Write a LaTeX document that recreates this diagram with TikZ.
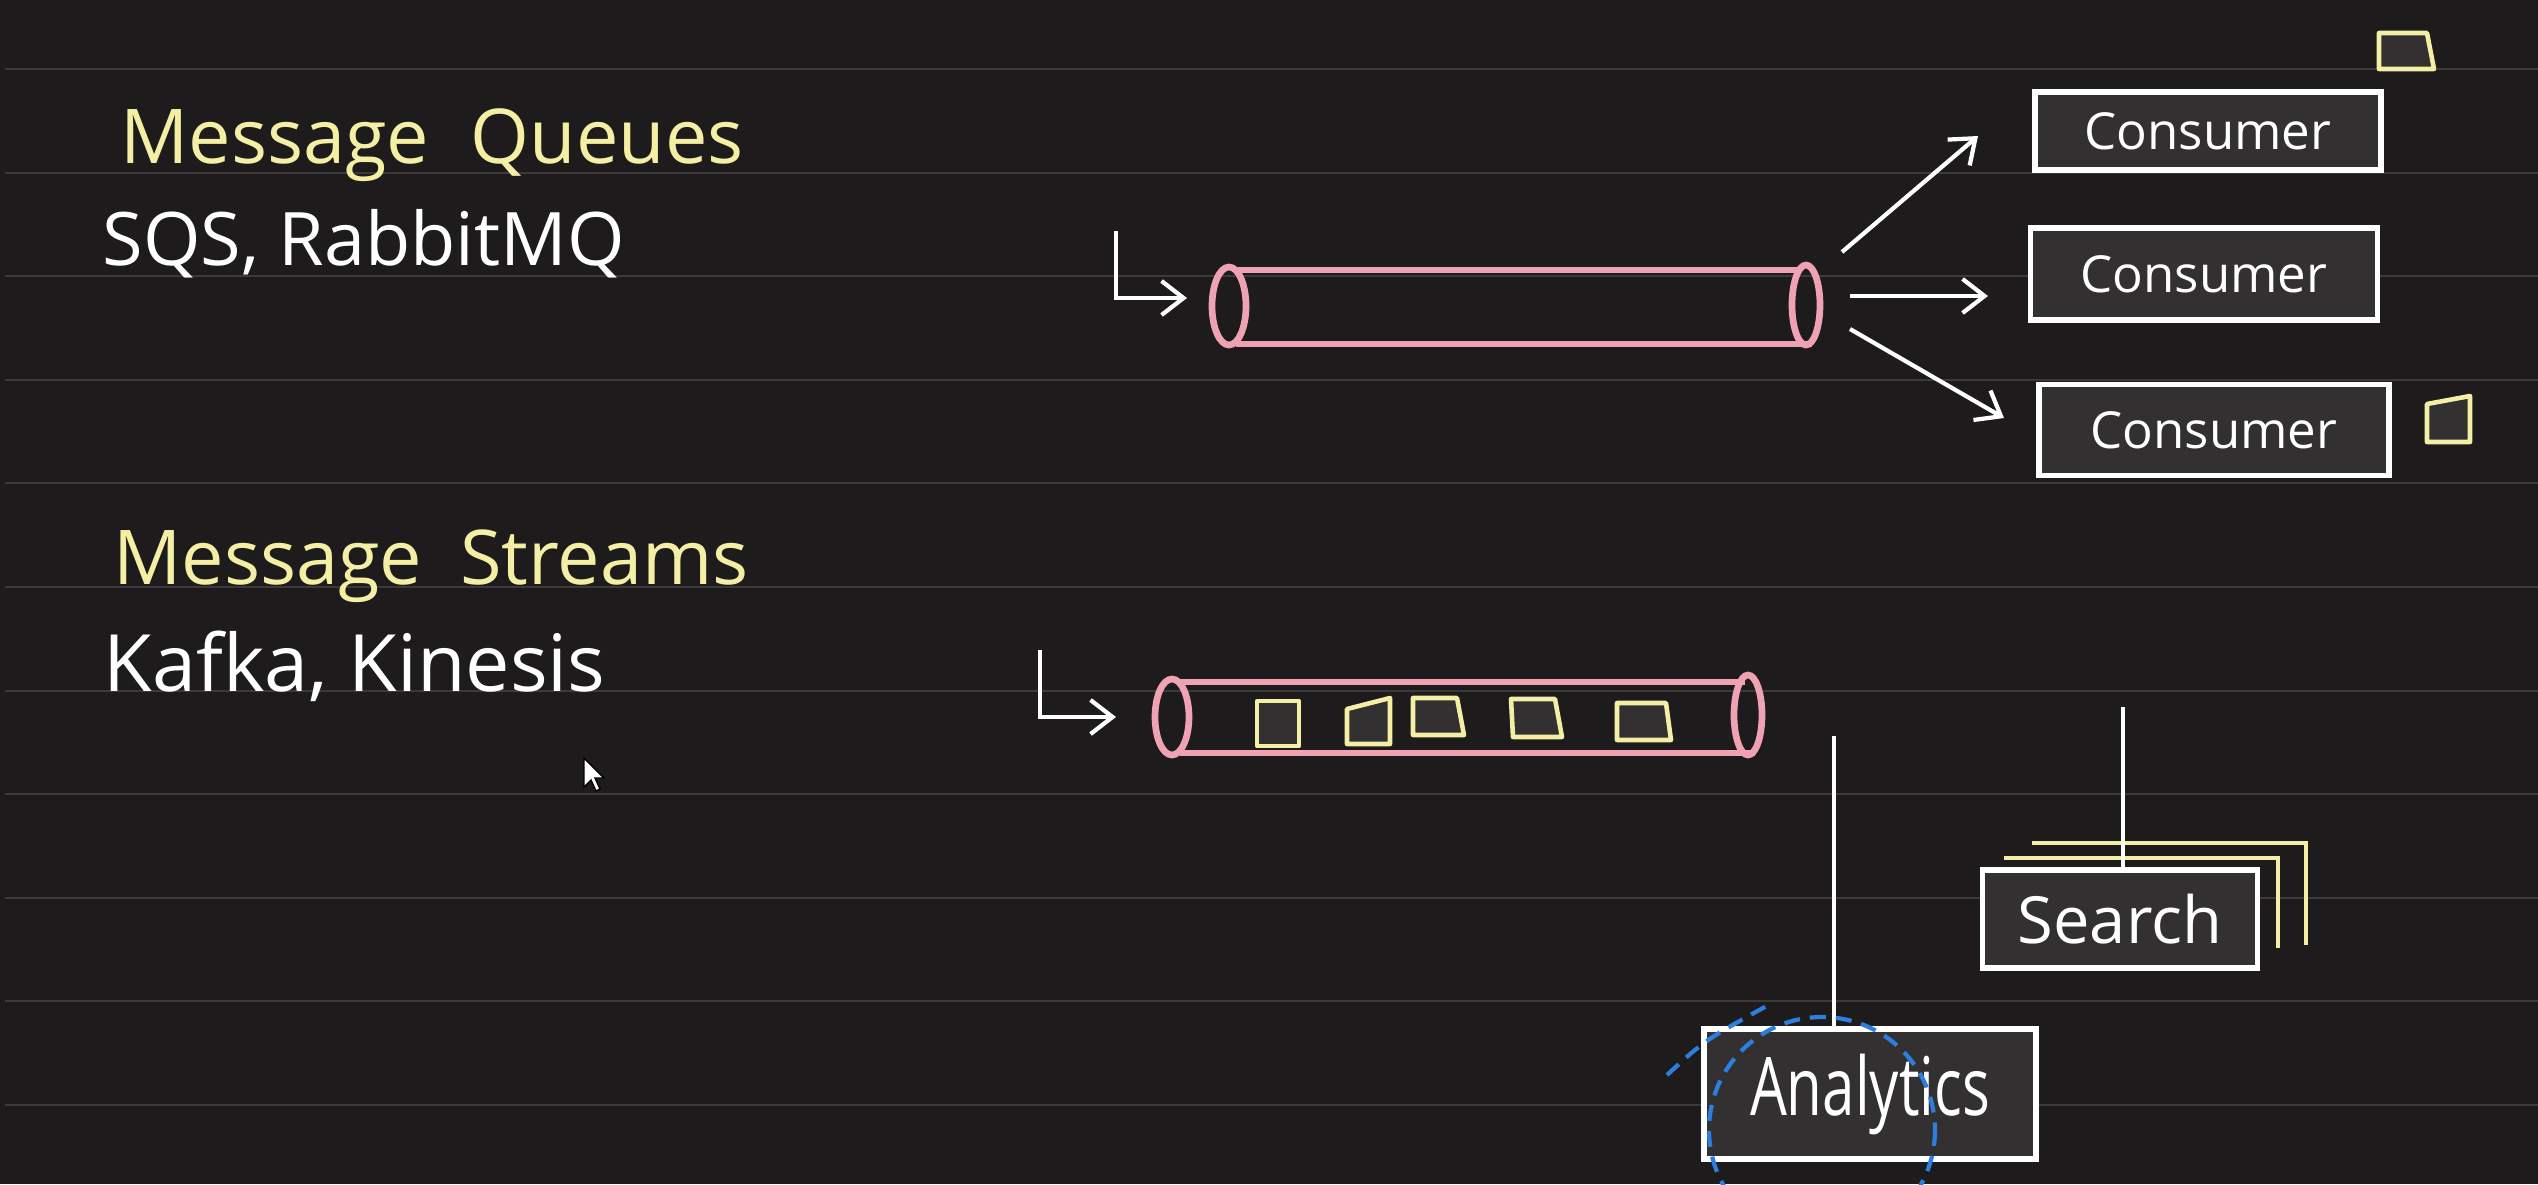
\documentclass[tikz,border=0pt]{standalone}
\usepackage{fontspec}
\setmainfont{Open Sans}
\usepackage{xcolor}
\usepackage{tikz}
\usetikzlibrary{arrows.meta}

\definecolor{tlo}{HTML}{1E1B1C}
\definecolor{linia}{HTML}{3B393A}
\definecolor{zolty}{HTML}{F4EFA4}
\definecolor{rozowy}{HTML}{EFA3B2}
\definecolor{niebieski}{HTML}{2C7FDE}
\definecolor{pudlo}{HTML}{333031}

\tikzset{
  box/.style={draw=white, line width=1.5pt, fill=pudlo, text=white, inner sep=0pt},
  rura/.style={draw=rozowy, line width=1.9pt},
  msg/.style={draw=zolty, line width=1.3pt, fill=pudlo, line join=round},
  strz/.style={white, line width=1.2pt, -{Straight Barb[length=2.2mm,width=3.4mm]}},
  pion/.style={white, line width=1pt},
  lasso/.style={niebieski, line width=1.2pt, dash pattern=on 0.16cm off 0.1cm},
  duzy/.style={anchor=base west, inner sep=0pt, font=\fontsize{21.5}{26}\selectfont}
}

\begin{document}
\begin{tikzpicture}[x=0.01cm, y=-0.01cm]
  % tlo i linie zeszytu
  \fill[tlo] (0,0) rectangle (2538,1184);
  \clip (0,0) rectangle (2538,1184);
  \foreach \k in {0,...,10}
    \draw[linia, line width=0.6pt] (5,{69+103.6*\k}) -- (2538,{69+103.6*\k});

  % napisy
  \node[duzy, text=zolty] (mq) at (120,163) {Message\hspace{0.55em}Queues};
  \node[duzy, text=white, font=\fontsize{21}{24}\selectfont] (sqs) at (102,265) {SQS, RabbitMQ};
  \node[duzy, text=zolty] (ms) at (113,584) {Message\hspace{0.5em}Streams};
  \node[duzy, text=white, font=\fontsize{22.5}{26}\selectfont] (kk) at (103,691) {Kafka, Kinesis};

  % kursor
  \filldraw[fill=white, draw=black, line width=0.4pt]
    (584,758) -- (584,787) -- (591,780) -- (596,791) -- (600,789) -- (595,778) -- (604,778) -- cycle;

  % kolejka
  \coordinate (qin) at (1116,231);
  \coordinate (qwe) at (1187,298);
  \draw[strz] (qin) |- (qwe);
  \draw[rura] (1229,306) ellipse (17 and 39);
  \draw[rura] (1806,305) ellipse (14 and 40);
  \draw[rura] (1238,270) -- (1800,270);
  \draw[rura] (1236,344) -- (1812,344);

  % konsumenci
  \node[box, minimum width=3.46cm, minimum height=0.78cm, font=\fontsize{14.5}{16}\selectfont] (c1) at (2208,131) {Consumer};
  \node[box, minimum width=3.47cm, minimum height=0.92cm, font=\fontsize{14.5}{16}\selectfont] (c2) at (2204,274) {Consumer};
  \node[box, minimum width=3.50cm, minimum height=0.91cm, font=\fontsize{14.5}{16}\selectfont] (c3) at (2214,430) {Consumer};

  \coordinate (q1) at (1842,252);
  \coordinate (k1) at (1978,136);
  \coordinate (q2) at (1850,296);
  \coordinate (k2) at (1988,296);
  \coordinate (q3) at (1850,329);
  \coordinate (k3) at (2004,418);
  \draw[strz] (q1) -- (k1);
  \draw[strz] (q2) -- (k2);
  \draw[strz] (q3) -- (k3);

  % wiadomosci obok
  \draw[msg] (2379,33) -- (2427,33) -- (2434,69) -- (2379,69) -- cycle;
  \draw[msg] (2427,404) -- (2470,396) -- (2470,442) -- (2427,442) -- cycle;

  % strumien
  \coordinate (sin) at (1040,650);
  \coordinate (swe) at (1116,717);
  \draw[strz] (sin) |- (swe);
  \draw[rura] (1172,717) ellipse (17 and 38);
  \draw[rura] (1748,715) ellipse (14 and 40);
  \draw[rura] (1180,682) -- (1745,682);
  \draw[rura] (1180,753) -- (1755,753);

  \draw[msg] (1257,701) -- (1299,701) -- (1299,746) -- (1257,746) -- cycle;
  \draw[msg] (1347,709) -- (1390,698) -- (1390,744) -- (1347,744) -- cycle;
  \draw[msg] (1413,698) -- (1457,698) -- (1464,735) -- (1413,735) -- cycle;
  \draw[msg] (1511,699) -- (1555,699) -- (1562,737) -- (1513,737) -- cycle;
  \draw[msg] (1617,703) -- (1666,703) -- (1671,740) -- (1617,740) -- cycle;

  % search (kilka kopii)
  \draw[zolty, line width=1.4pt] (2032,843) -- (2306,843) -- (2306,945);
  \draw[zolty, line width=1.4pt] (2004,858) -- (2278,858) -- (2278,948);
  \node[box, minimum width=2.75cm, minimum height=0.98cm, font=\fontsize{18.5}{20}\selectfont] (se) at (2120,919) {Search};
  \coordinate (stop) at (2123,707);
  \draw[pion] (stop) -- (stop |- se.north);

  % analytics
  \node[box, minimum width=3.32cm, minimum height=1.30cm] (an) at (1870,1094)
    {\scalebox{0.72}[1]{\fontsize{23}{24}\selectfont Analytics}};
  \coordinate (atop) at (1834,736);
  \draw[pion] (atop) -- (atop |- an.north);

  % zaznaczenie
  \draw[lasso] (1822,1130) circle (113);
  \draw[lasso] (1667,1075) .. controls (1705,1040) .. (1772,1003);
\end{tikzpicture}
\end{document}
